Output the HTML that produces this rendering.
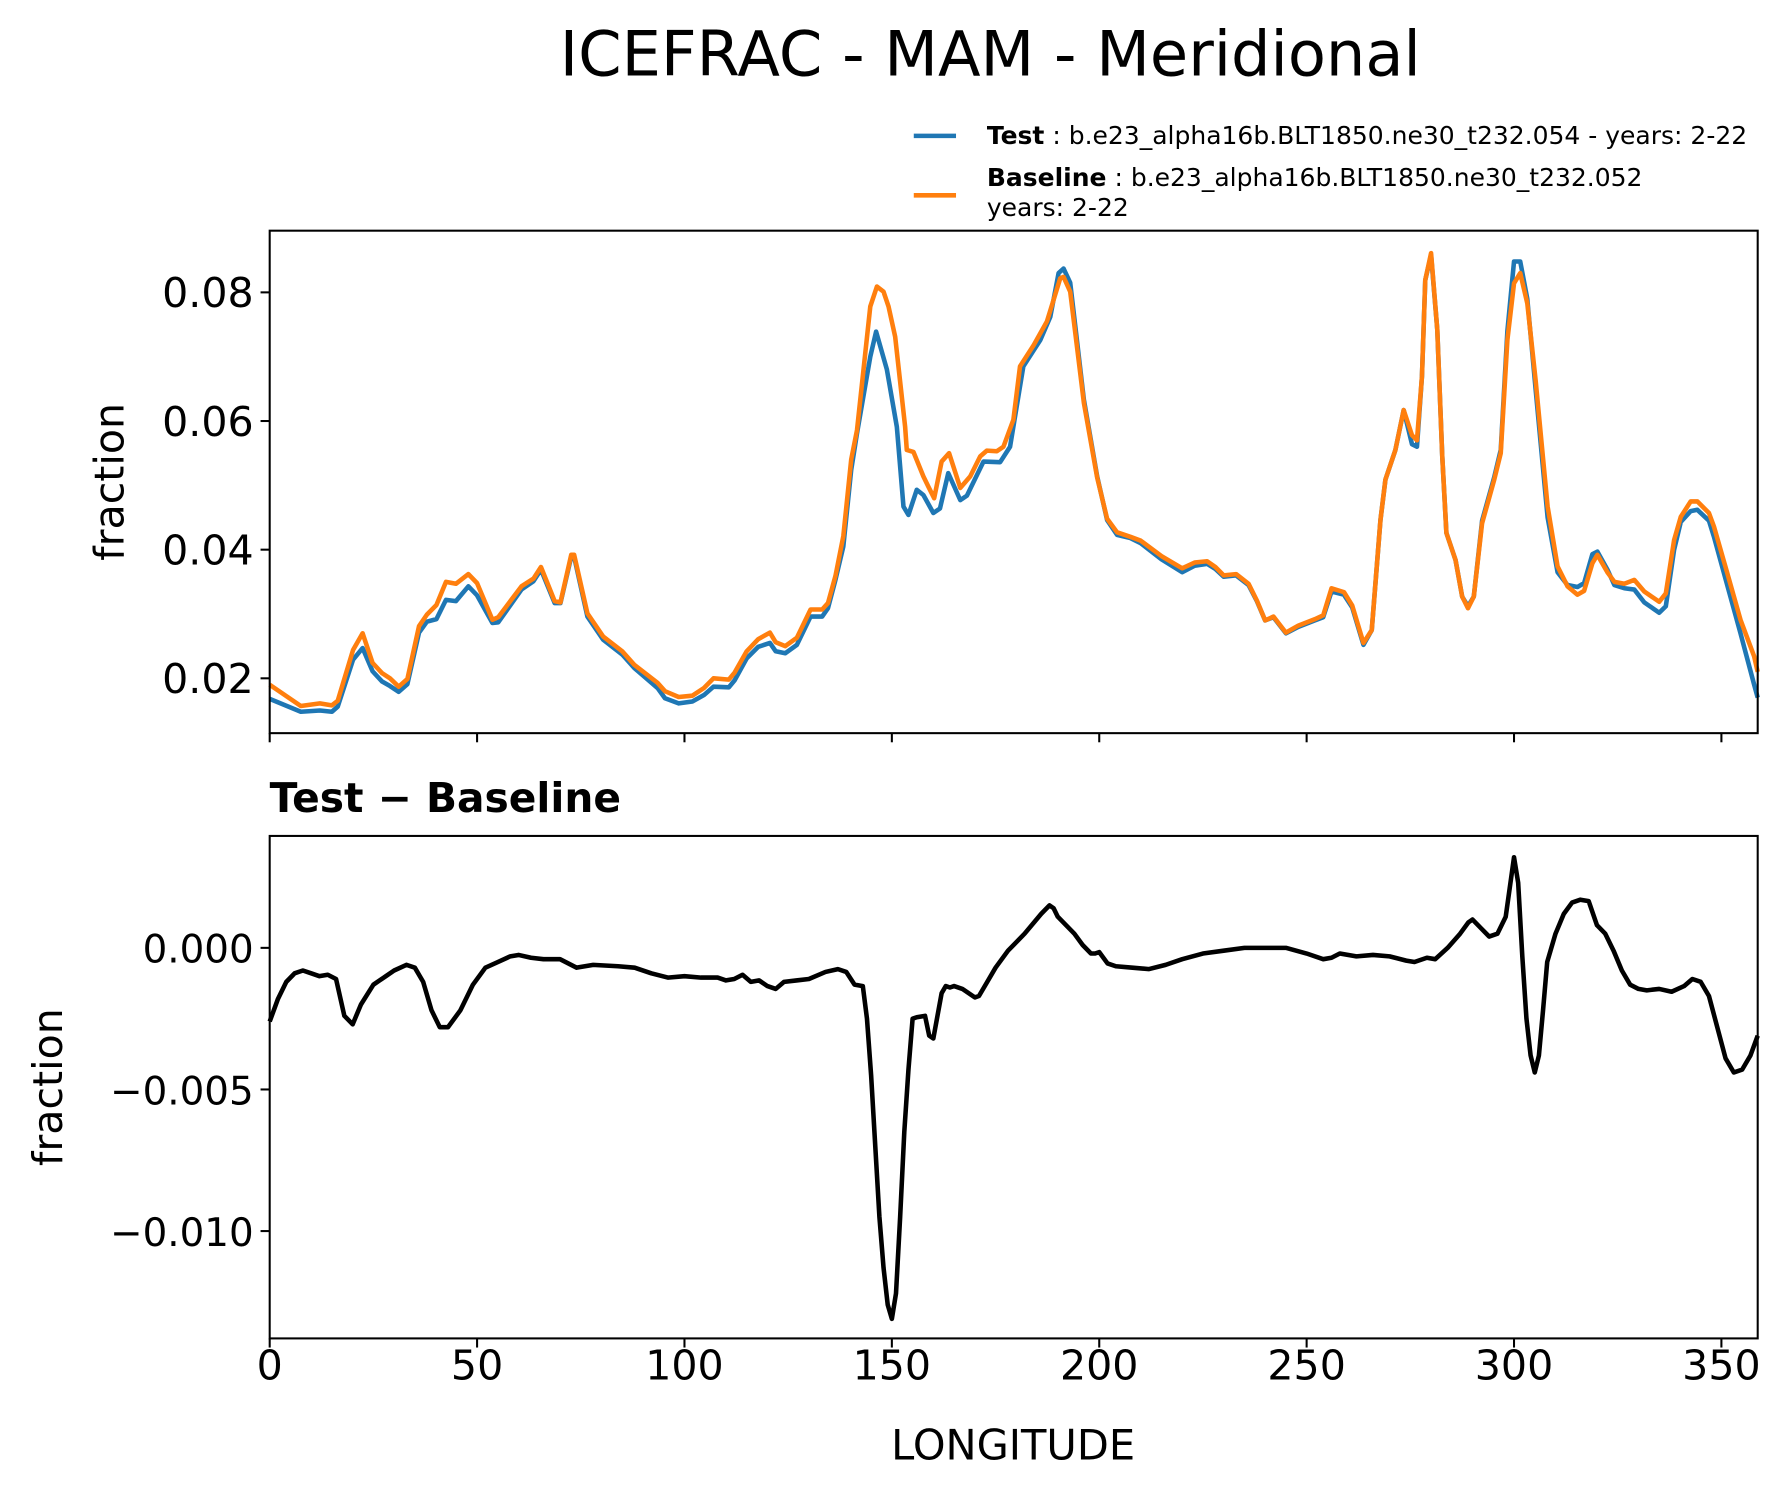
<!DOCTYPE html>
<html><head><meta charset="utf-8"><style>html,body{margin:0;padding:0;background:#fff}svg{display:block}text{font-family:"DejaVu Sans","Liberation Sans",sans-serif}</style></head>
<body>
<svg id="chart" width="1791" height="1496" viewBox="0 0 1568 1310" xmlns="http://www.w3.org/2000/svg">
<rect width="1568" height="1310" fill="#fff"/>
<text x="867" y="66" font-size="54.5" text-anchor="middle">ICEFRAC - MAM - Meridional</text>
<g>
<line x1="800" y1="119" x2="837" y2="119" stroke="#1f77b4" stroke-width="4"/>
<text x="864" y="126" font-size="21.9"><tspan font-weight="bold">Test</tspan> : b.e23_alpha16b.BLT1850.ne30_t232.054 - years: 2-22</text>
<line x1="800" y1="171" x2="837" y2="171" stroke="#ff7f0e" stroke-width="4"/>
<text x="864" y="163" font-size="21.9"><tspan font-weight="bold">Baseline</tspan> : b.e23_alpha16b.BLT1850.ne30_t232.052</text>
<text x="864" y="189" font-size="21.9">years: 2-22</text>
</g>
<g id="topPanel"></g>
<g id="botPanel"></g>
<text x="236" y="711" font-size="35.7" font-weight="bold">Test − Baseline</text>
<text x="887" y="1278" font-size="36.4" text-anchor="middle">LONGITUDE</text>
<text transform="translate(108,422) rotate(-90)" font-size="36" text-anchor="middle">fraction</text>
<text transform="translate(54,952) rotate(-90)" font-size="36" text-anchor="middle">fraction</text>
</svg>
<script>
const testLon=[0,7.5,12.1,15,16.4,20.1,22.4,24.8,27.1,29,31.1,33.2,36,37.9,40.2,42.5,44.9,47.9,50,53.7,55.1,60.7,63.6,65.4,68.7,70.1,72.7,73.4,76.6,80.4,85,87.9,93.5,95.3,98.6,101.9,104.7,107,110.7,112.1,115,117.8,120.6,122,124.3,127.1,130.4,133.2,134.6,136.4,138.3,140.2,141.6,144.8,146.2,148.8,151.2,152.8,154,156,157.6,160,161.6,163.6,166.5,168.1,172.1,176.1,178.5,181.7,184.2,185.8,188.2,190.2,191.4,193,196.3,199.5,201.9,204.3,207.5,210,215,220,223,226,228,230,233,236,238,240,242,245,248,252,254,256,259,261,263.7,265.7,267.8,269,271.4,273.4,275.4,276.6,277.8,278.6,280,281.5,282.7,283.7,285.9,287.5,288.9,290.3,292.3,295.2,296.8,298.4,300,301.5,303.2,305.2,308.1,310.5,312.9,315.3,316.9,318.9,320.1,322.6,324.2,326.6,329,331.4,335,336.6,338.6,340.2,342.6,344.2,347,348.2,351.4,354.6,357.9,358.75];
const testVal=[.0168,.0148,.0150,.0148,.0156,.0229,.0247,.0211,.0195,.0188,.0179,.0191,.0271,.0288,.0292,.0322,.0320,.0343,.0329,.0286,.0287,.0338,.0351,.0369,.0317,.0317,.0389,.0389,.0296,.0260,.0237,.0216,.0185,.0169,.0161,.0164,.0174,.0187,.0186,.0197,.0231,.0249,.0255,.0242,.0239,.0252,.0296,.0296,.0309,.0353,.0405,.0524,.0581,.0700,.0739,.0680,.0591,.0467,.0454,.0493,.0485,.0457,.0464,.0519,.0477,.0484,.0537,.0536,.0560,.0685,.0710,.0726,.0762,.0830,.0837,.0815,.0633,.0514,.0446,.0423,.0418,.0410,.0385,.0365,.0375,.0378,.0370,.0358,.0360,.0345,.0320,.0290,.0295,.0270,.0280,.0290,.0295,.0335,.0330,.0310,.0252,.0275,.0446,.0509,.0555,.0617,.0564,.0560,.0669,.0819,.0858,.0742,.0545,.0426,.0384,.0327,.0312,.0327,.0445,.0512,.0555,.0740,.0848,.0848,.0790,.0650,.0450,.0365,.0345,.0342,.0348,.0393,.0397,.0368,.0345,.0340,.0338,.0318,.0302,.0312,.0400,.0443,.0460,.0462,.0445,.0420,.0345,.0270,.0190,.0170];
const baseLon=[0,7.5,12.1,15,16.4,20.1,22.4,24.8,27.1,29,31.1,33.2,36,37.9,40.2,42.5,44.9,47.9,50,53.7,55.1,60.7,63.6,65.4,68.7,70.1,72.7,73.4,76.6,80.4,85,87.9,93.5,95.3,98.6,101.9,104.7,107,110.7,112.1,115,117.8,120.6,122,124.3,127.1,130.4,133.2,134.6,136.4,138.3,140.2,141.6,144.8,146.4,148,149.2,150.8,153.2,153.6,155.2,157.6,158.8,160.2,162,163.8,166.5,168.9,171.3,172.9,175.3,176.9,179.3,180.9,184.2,187.4,190.6,191.4,193,196.3,199.5,201.9,204.3,207.5,210,215,220,223,226,228,230,233,236,238,240,242,245,248,252,254,256,259,261,263.7,265.7,267.8,269,271.4,273.4,275.4,276.6,277.8,278.6,280,281.5,282.7,283.7,285.9,287.5,288.9,290.3,292.3,295.2,296.8,298.4,300,301.5,303.2,305.2,308.1,310.5,312.9,315.3,316.9,318.9,320.1,322.6,324.2,326.6,329,331.4,335,336.6,338.6,340.2,342.6,344.2,347,348.2,351.4,354.6,357.9,358.75];
const baseVal=[.0190,.0157,.0161,.0158,.0165,.0244,.0270,.0224,.0208,.0200,.0187,.0199,.0281,.0299,.0314,.0350,.0347,.0362,.0348,.0291,.0295,.0343,.0355,.0373,.0320,.0318,.0392,.0392,.0301,.0265,.0242,.0221,.0193,.0180,.0171,.0173,.0185,.0200,.0198,.0209,.0242,.0261,.0271,.0256,.0250,.0263,.0307,.0307,.0317,.0359,.0421,.0540,.0586,.0778,.0809,.0801,.0778,.0731,.0591,.0555,.0552,.0514,.0498,.0480,.0537,.0550,.0496,.0514,.0545,.0554,.0553,.0560,.0602,.0685,.0718,.0755,.0822,.0824,.0801,.0628,.0512,.0448,.0427,.0420,.0414,.0390,.0371,.0380,.0382,.0373,.0360,.0362,.0347,.0321,.0290,.0296,.0271,.0282,.0292,.0298,.0340,.0334,.0313,.0255,.0275,.0446,.0509,.0555,.0617,.0578,.0570,.0669,.0819,.0861,.0742,.0545,.0426,.0384,.0327,.0309,.0327,.0441,.0508,.0550,.0726,.0814,.0830,.0783,.0664,.0467,.0374,.0343,.0330,.0336,.0379,.0392,.0364,.0350,.0347,.0353,.0335,.0319,.0332,.0415,.0451,.0475,.0475,.0457,.0436,.0364,.0291,.0234,.0210];
const diffLon=[0,2,4,6,8,10,12,14,16,18,20,22,25,28,30,33,35,37,39,41,43,46,49,52,55,58,60,63,66,70,74,78,84,88,92,96,100,104,108,110,112,114,116,118,120,122,124,127,130,134,137,139,141,143,144,145,146,147,148,149,150,151,152,153,154,155,156,158,159,160,162,163,164,165,167,170,171,173,175,178,182,186,188,189,190,192,194,196,198,199,200,202,204,208,212,216,220,225,230,235,240,245,250,254,256,258,262,266,270,274,276,279,281,284,287,289,290,292,294,296,298,300,301,302,303,304,305,306,307,308,310,312,314,316,318,320,322,324,326,328,330,332,335,338,341,343,345,347,349,351,353,355,357,358.75];
const diffVal=[-2.6,-1.8,-1.2,-0.9,-0.8,-0.9,-1.0,-0.95,-1.1,-2.4,-2.7,-2.0,-1.3,-1.0,-0.8,-0.6,-0.7,-1.2,-2.2,-2.8,-2.8,-2.2,-1.3,-0.7,-0.5,-0.3,-0.25,-0.35,-0.4,-0.4,-0.7,-0.6,-0.65,-0.7,-0.9,-1.05,-1.0,-1.05,-1.05,-1.15,-1.1,-0.95,-1.2,-1.15,-1.35,-1.45,-1.2,-1.15,-1.1,-0.85,-0.75,-0.85,-1.3,-1.35,-2.5,-4.5,-7,-9.5,-11.3,-12.6,-13.1,-12.2,-9.5,-6.5,-4.3,-2.5,-2.45,-2.4,-3.1,-3.2,-1.6,-1.35,-1.4,-1.35,-1.45,-1.75,-1.7,-1.2,-0.7,-0.1,0.5,1.2,1.5,1.4,1.1,0.8,0.5,0.1,-0.2,-0.2,-0.15,-0.55,-0.65,-0.7,-0.75,-0.6,-0.4,-0.2,-0.1,0.0,0.0,0.0,-0.2,-0.4,-0.35,-0.2,-0.3,-0.25,-0.3,-0.45,-0.5,-0.35,-0.4,0.0,0.5,0.9,1.0,0.7,0.4,0.5,1.1,3.2,2.3,-0.3,-2.5,-3.8,-4.4,-3.8,-2.2,-0.5,0.5,1.2,1.6,1.7,1.65,0.8,0.5,-0.1,-0.8,-1.3,-1.45,-1.5,-1.45,-1.55,-1.35,-1.1,-1.2,-1.7,-2.8,-3.9,-4.4,-4.3,-3.8,-3.1];
const xTicks=[0,50,100,150,200,250,300,350];
const topTicks=[0.02,0.04,0.06,0.08];
const topTickLabels=["0.02","0.04","0.06","0.08"];
const botTicks=[0,-0.005,-0.010];
const botTickLabels=["0.000","\u22120.005","\u22120.010"];

const NS="http://www.w3.org/2000/svg";
const L=236,R=1539,XMIN=0,XMAX=358.75;
const xs=v=>L+(v-XMIN)/(XMAX-XMIN)*(R-L);
const topY0=202,topY1=642,topMin=0.011475,topMax=0.08959;
const ysTop=v=>topY1-(v-topMin)/(topMax-topMin)*(topY1-topY0);
const botY0=732,botY1=1172,botMin=-0.013790,botMax=0.003952;
const ysBot=v=>botY1-(v-botMin)/(botMax-botMin)*(botY1-botY0);
function mk(tag,attrs,parent){const e=document.createElementNS(NS,tag);for(const k in attrs)e.setAttribute(k,attrs[k]);parent.appendChild(e);return e;}
function path(xa,ya,xf,yf){return xa.map((x,i)=>(i?'L':'M')+xf(x).toFixed(2)+','+yf(ya[i]).toFixed(2)).join('');}

const topG=document.getElementById('topPanel'),botG=document.getElementById('botPanel');
let p=mk('path',{d:path(testLon,testVal,xs,ysTop),fill:'none',stroke:'#1f77b4','stroke-width':4,'stroke-linejoin':'round'},topG);


p=mk('path',{d:path(baseLon,baseVal,xs,ysTop),fill:'none',stroke:'#ff7f0e','stroke-width':4,'stroke-linejoin':'round'},topG);


p=mk('path',{d:path(diffLon,diffVal.map(v=>v/1000),xs,ysBot),fill:'none',stroke:'#000','stroke-width':4,'stroke-linejoin':'round'},botG);



[[topG,topY0,topY1,'top'],[botG,botY0,botY1,'bottom']].forEach(([g,y0,y1,nm])=>{
  const r=mk('rect',{x:L,y:y0,width:R-L,height:y1-y0,fill:'none',stroke:'#000','stroke-width':1.8},g);
  
  
  xTicks.forEach(t=>{
    const l=mk('line',{x1:xs(t),x2:xs(t),y1:y1,y2:y1+8,stroke:'#000','stroke-width':1.8},g);
    
    
  });
});
xTicks.forEach(t=>{
  const tx=mk('text',{x:xs(t),y:1208,'font-size':36,'text-anchor':'middle'},botG);
  tx.textContent=String(t);
  
  
});
topTicks.forEach((t,i)=>{
  const l=mk('line',{x1:L-8,x2:L,y1:ysTop(t),y2:ysTop(t),stroke:'#000','stroke-width':1.8},topG);
  
  
  const tx=mk('text',{x:L-14,y:ysTop(t)+13,'font-size':36,'text-anchor':'end'},topG);
  tx.textContent=topTickLabels[i];
  
  
});
botTicks.forEach((t,i)=>{
  const l=mk('line',{x1:L-8,x2:L,y1:ysBot(t),y2:ysBot(t),stroke:'#000','stroke-width':1.8},botG);
  
  
  const tx=mk('text',{x:L-14,y:ysBot(t)+13,'font-size':34,'text-anchor':'end'},botG);
  tx.textContent=botTickLabels[i];
  
  
});
</script>
</body></html>
